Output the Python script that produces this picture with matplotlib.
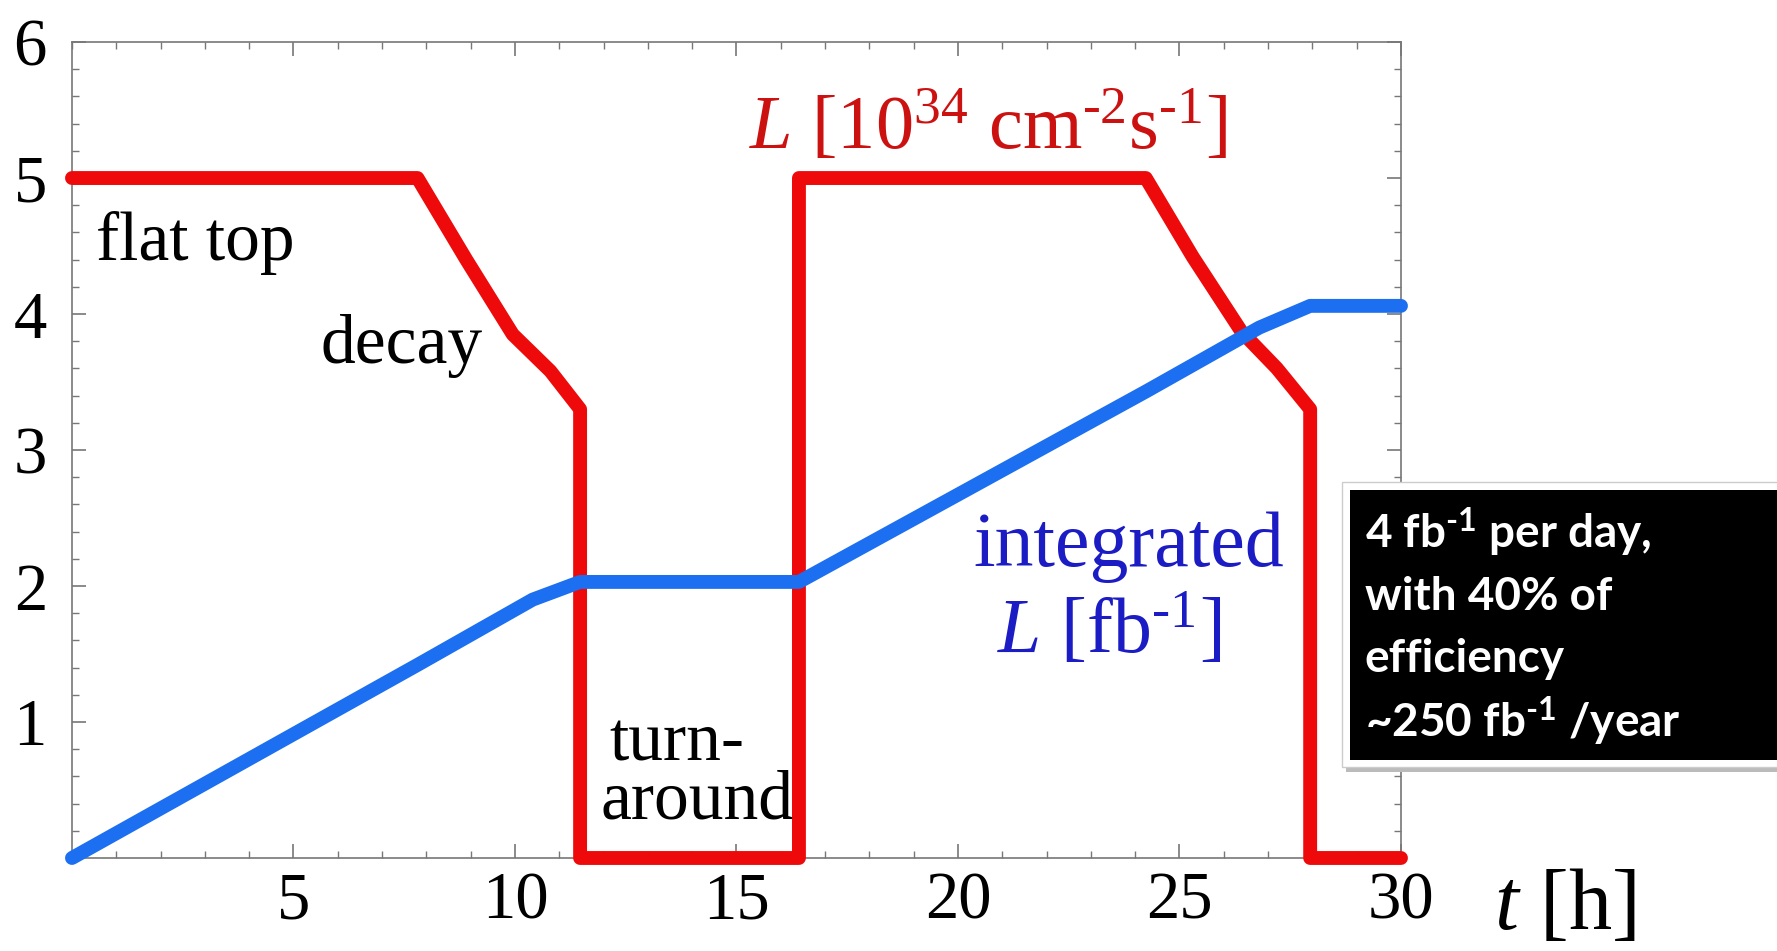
import matplotlib
matplotlib.use('Agg')
import matplotlib.pyplot as plt
from matplotlib.patches import Rectangle
from matplotlib.ticker import MultipleLocator

# serif everywhere, math parts follow the text font
plt.rcParams['font.family'] = 'Liberation Serif'
plt.rcParams['mathtext.fontset'] = 'custom'
plt.rcParams['mathtext.rm'] = 'Liberation Serif'
plt.rcParams['mathtext.it'] = 'Liberation Serif:italic'
plt.rcParams['mathtext.default'] = 'regular'

# %%
# instantaneous luminosity L [1e34 cm^-2 s^-1] vs time [h]
t_lumi = [0, 7.8, 8.9, 9.95, 10.8, 11.47, 11.47, 16.41, 16.41, 24.24, 25.3, 26.4, 27.2, 27.95, 27.95, 30]
lumi = [5, 5, 4.4, 3.85, 3.58, 3.3, 0, 0, 5, 5, 4.42, 3.87, 3.6, 3.3, 0, 0]

# integrated luminosity [fb^-1]
t_int = [0, 7.8, 10.4, 11.47, 16.41, 24.24, 26.8, 27.95, 30]
lumi_int = [0, 1.42, 1.9, 2.03, 2.03, 3.43, 3.9, 4.06, 4.06]

x_ticks = [5, 10, 15, 20, 25, 30]
y_ticks = [1, 2, 3, 4, 5, 6]

# short hyphen (U+2010) in the exponents, mathtext would turn '-' into a wide minus
box_lines = ['4 fb$^{\u20101}$ per day,', 'with 40% of', 'efficiency', '~250 fb$^{\u20101}$ /year']

red = '#ee0a0a'
blue = '#1b6ff0'

# %%
fig = plt.figure(figsize=(17.77, 9.51), dpi=100)
ax = fig.add_axes([0.0405, 0.0978, 0.7479, 0.858])

ax.plot(t_lumi, lumi, color=red, lw=10, solid_capstyle='round', solid_joinstyle='round',
        clip_on=False, zorder=3)
ax.plot(t_int, lumi_int, color=blue, lw=10, solid_capstyle='round', solid_joinstyle='round',
        clip_on=False, zorder=4)

ax.set_xlim(0, 30)
ax.set_ylim(0, 6)
ax.set_xticks(x_ticks)
ax.set_yticks(y_ticks)
ax.xaxis.set_minor_locator(MultipleLocator(1))
ax.yaxis.set_minor_locator(MultipleLocator(0.2))
ax.tick_params(which='both', direction='in', top=True, right=True, color='#777777')
ax.tick_params(which='major', length=10, width=1.2, labelsize=48)
ax.tick_params(which='minor', length=5, width=1)
ax.tick_params(axis='x', pad=10)
ax.tick_params(axis='y', pad=18)
for s in ax.spines.values():
    s.set_color('#777777')
    s.set_linewidth(1.2)

# annotations
ax.text(0.54, 4.40, 'flat top', fontsize=50, va='baseline')
ax.text(5.62, 3.64, 'decay', fontsize=50, va='baseline')
ax.text(12.12, 0.72, 'turn-', fontsize=50, va='baseline')
ax.text(11.94, 0.29, 'around', fontsize=50, va='baseline')
ax.text(26.07, 5.21, '$\\mathit{L}$ [10$^{34}$ cm$^{\u20102}$s$^{\u20101}$]', fontsize=55,
        color='#cc1111', ha='right', va='baseline')
ax.text(27.36, 2.15, 'integrated', fontsize=56, color='#1c1cc4', ha='right', va='baseline')
ax.text(25.94, 1.51, '$\\mathit{L}$ [fb$^{\u20101}$]', fontsize=56, color='#1c1cc4',
        ha='right', va='baseline')
ax.text(32.1, -0.52, r'$\mathit{t}$ [h]', fontsize=62, va='baseline', clip_on=False)

# black info box sticking out on the right
fig.add_artist(Rectangle((0.7575, 0.1885), 0.3, 0.2997, transform=fig.transFigure,
                         facecolor='#bbbbbb', edgecolor='none', zorder=5))
fig.add_artist(Rectangle((0.7552, 0.1935), 0.3, 0.2997, transform=fig.transFigure,
                         facecolor='white', edgecolor='#cccccc', lw=1, zorder=6))
fig.add_artist(Rectangle((0.7597, 0.2008), 0.3, 0.2839, transform=fig.transFigure,
                         facecolor='black', edgecolor='none', zorder=7))
for line, yb in zip(box_lines, [0.4238, 0.3586, 0.2934, 0.2250]):
    fig.text(0.7681, yb, line, family='Lato', weight='bold', fontsize=33, color='white',
             va='baseline', zorder=8)

plt.savefig('out.png', dpi=100)
